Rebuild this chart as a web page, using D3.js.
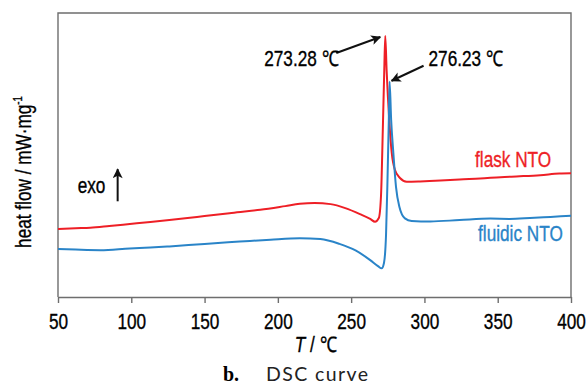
<!DOCTYPE html>
<html><head><meta charset="utf-8">
<script src="https://cdn.jsdelivr.net/npm/d3@7"></script>
<style>body{margin:0;background:#fff}</style>
</head><body>
<svg id="c" width="586" height="386"></svg>
<script>
// ---- data (temperature in °C, heat flow in arbitrary units) ----
const flaskT = [50, 62, 72, 85, 99, 113, 126, 140, 150, 167, 188, 205, 215, 225, 236, 246, 256, 263, 266.3, 268.9, 270.4, 271.6, 272.6, 273.28, 274.2, 276.0, 277.7, 279.9, 283.3, 287.9, 297, 311, 324, 338, 352, 365, 379, 392, 400];
const flaskHF = [2.39, 2.42, 2.44, 2.50, 2.57, 2.64, 2.71, 2.79, 2.85, 2.95, 3.07, 3.20, 3.28, 3.31, 3.27, 3.13, 2.92, 2.75, 2.65, 2.78, 3.59, 5.88, 7.99, 9.19, 7.99, 6.23, 5.07, 4.47, 4.19, 4.06, 4.07, 4.10, 4.14, 4.17, 4.22, 4.25, 4.29, 4.35, 4.36];
const fluidicT = [50, 62, 79, 99, 113, 126, 150, 174, 195, 215, 229, 242, 253, 263, 268.3, 270.8, 272.4, 273.8, 274.8, 275.7, 276.23, 277.3, 278.8, 280.6, 282.9, 286.7, 291.3, 304, 324, 345, 358, 372, 386, 400];
const fluidicHF = [1.69, 1.67, 1.65, 1.71, 1.74, 1.78, 1.87, 1.95, 2.02, 2.07, 2.04, 1.87, 1.64, 1.30, 1.09, 1.01, 1.20, 2.18, 4.12, 6.23, 7.58, 6.23, 5.07, 3.88, 3.18, 2.77, 2.68, 2.66, 2.71, 2.76, 2.75, 2.78, 2.82, 2.86];
const xTicks = [50, 100, 150, 200, 250, 300, 350, 400];
const seriesNames = ["flask NTO", "fluidic NTO"];
const seriesColors = ["#ee1f26", "#2a84c8"];
const peakT = [273.28, 276.23];
const peakLabels = ["273.28 ℃", "276.23 ℃"];

const svg = d3.select("#c");
const x = d3.scaleLinear().domain([50, 400]).range([58, 571]);
const y = d3.scaleLinear().domain([0, 10]).range([297, 13]);
const SQ = "scale(0.8,1)";
const FONT = "'Liberation Sans', Arial, sans-serif";
const FS = 21.5;

function sans(sel, color) {
  return sel.attr("font-family", FONT).attr("font-size", FS)
    .attr("fill", color).attr("stroke", color).attr("stroke-width", 0.35);
}

// frame (left, top, right)
svg.append("path")
  .attr("d", `M${x(50)},${y(0)}V${y(10)}H${x(400)}V${y(0)}`)
  .attr("fill", "none").attr("stroke", "#6e6e6e").attr("stroke-width", 1.4);

// bottom axis
const xAxis = d3.axisBottom(x).tickValues(xTicks).tickSize(6).tickSizeOuter(0).tickFormat(d3.format("d"));
const gx = svg.append("g").attr("transform", `translate(0,${y(0)})`).call(xAxis);
gx.select(".domain").attr("stroke", "#6e6e6e").attr("stroke-width", 1.4);
gx.selectAll(".tick line").attr("stroke", "#6e6e6e").attr("stroke-width", 1.4);
gx.selectAll(".tick text").call(sans, "#000")
  .attr("y", 0).attr("dy", 0)
  .attr("transform", `translate(0,32) ${SQ}`);

// curves
const line = d3.line().x(d => x(d[0])).y(d => y(d[1])).curve(d3.curveMonotoneX);
const series = [d3.zip(flaskT, flaskHF), d3.zip(fluidicT, fluidicHF)];
series.forEach((s, i) => {
  svg.append("path").datum(s).attr("d", line)
    .attr("fill", "none").attr("stroke", seriesColors[i]).attr("stroke-width", 2)
    .attr("stroke-linejoin", "round");
});

// arrow marker
const defs = svg.append("defs");
defs.append("marker").attr("id", "ah").attr("viewBox", "0 0 10 10")
  .attr("refX", 9).attr("refY", 5).attr("markerWidth", 12).attr("markerHeight", 10)
  .attr("markerUnits", "userSpaceOnUse").attr("orient", "auto")
  .append("path").attr("d", "M0,0L10,5L0,10L2.5,5Z").attr("fill", "#111");

// peak annotations
const peakY = [d3.max(flaskHF), fluidicHF[fluidicT.indexOf(276.23)]];
{
  const px = x(peakT[0]), py = y(peakY[0]);
  svg.append("line").attr("x1", px - 49).attr("y1", py + 17).attr("x2", px - 5).attr("y2", py + 1)
    .attr("stroke", "#111").attr("stroke-width", 2).attr("marker-end", "url(#ah)");
  svg.append("text").attr("transform", `translate(${px - 84},${y(8.15)}) ${SQ}`)
    .attr("text-anchor", "middle").call(sans, "#000").text(peakLabels[0]);
}
{
  const px = x(peakT[1]), py = y(peakY[1]);
  svg.append("line").attr("x1", px + 34).attr("y1", py - 16).attr("x2", px + 2).attr("y2", py - 1)
    .attr("stroke", "#111").attr("stroke-width", 2).attr("marker-end", "url(#ah)");
  svg.append("text").attr("transform", `translate(${px + 76},${y(8.15)}) ${SQ}`)
    .attr("text-anchor", "middle").call(sans, "#000").text(peakLabels[1]);
}

// series labels
svg.append("text").attr("transform", `translate(${x(360.5)},${y(4.58)}) ${SQ}`)
  .attr("text-anchor", "middle").call(sans, seriesColors[0]).text(seriesNames[0]);
svg.append("text").attr("transform", `translate(${x(365.5)},${y(1.97)}) ${SQ}`)
  .attr("text-anchor", "middle").call(sans, seriesColors[1]).text(seriesNames[1]);

// exo arrow
svg.append("text").attr("transform", `translate(${x(72.9)},${y(3.66)}) ${SQ}`)
  .attr("text-anchor", "middle").call(sans, "#000").text("exo");
svg.append("line").attr("x1", x(90.7)).attr("x2", x(90.7)).attr("y1", y(3.37)).attr("y2", y(4.5))
  .attr("stroke", "#111").attr("stroke-width", 2).attr("marker-end", "url(#ah)");

// axis titles
const xt = svg.append("text").attr("transform", `translate(${(x(50) + x(400)) / 2 + 1},352) ${SQ}`)
  .attr("text-anchor", "middle").call(sans, "#000");
xt.append("tspan").attr("font-style", "italic").text("T");
xt.append("tspan").text(" / ℃");

const yt = svg.append("text").attr("transform", `translate(31,172) rotate(-90) ${SQ}`)
  .attr("text-anchor", "middle").call(sans, "#000");
yt.append("tspan").text("heat flow / mW·mg");
yt.append("tspan").attr("font-size", 12).attr("dy", -9).text("-1");

// caption
const cap = svg.append("text").attr("x", 223).attr("y", 380.5);
cap.append("tspan").attr("font-family", "'Liberation Serif', serif").attr("font-weight", "bold").attr("font-size", 20).text("b.");
cap.append("tspan").attr("x", 266).attr("font-family", "Lato, 'Open Sans', sans-serif").attr("font-size", 19.5)
  .attr("letter-spacing", 1.4).attr("fill", "#222").text("DSC curve");
</script>
</body></html>
